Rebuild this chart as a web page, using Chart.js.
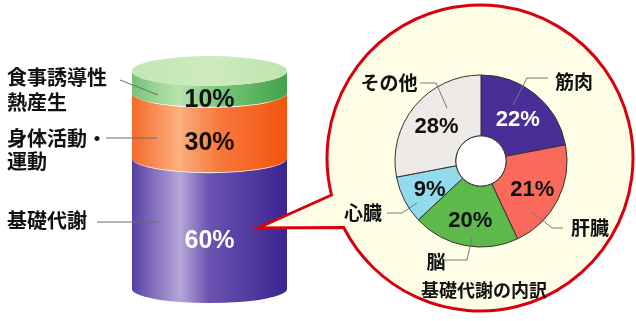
<!DOCTYPE html>
<html>
<head>
<meta charset="utf-8">
<script src="https://cdn.jsdelivr.net/npm/chart.js@4.4.1/dist/chart.umd.min.js"></script>
<style>
body{margin:0;background:#fff}
#wrap{position:relative;width:636px;height:321px}
#wrap canvas{position:absolute;left:0;top:0}
</style>
</head>
<body>
<div id="wrap">
<canvas id="enchu" width="636" height="321"></canvas>
<canvas id="uchiwake" width="636" height="321"></canvas>
</div>
<script>
// 1日のエネルギー消費量の内訳 (下から順)
const bunrui = ['基礎代謝', '身体活動・\n運動', '食事誘導性\n熱産生'];
const wariai = [60, 30, 10];

// 基礎代謝の内訳 (上から時計回り)
const soshiki = ['筋肉', '肝臓', '脳', '心臓', 'その他'];
const soshikiWariai = [22, 21, 20, 9, 28];
const uchiwakeTitle = '基礎代謝の内訳';

const JP = '"Noto Sans CJK JP", sans-serif';
const NUM = '"Liberation Sans", "Noto Sans CJK JP", sans-serif';

const enchuIro = [
  [[0,'#5840a4'],[0.31,'#b6a6d8'],[0.5,'#6a52b0'],[1,'#3a2590']],
  [[0,'#f4692a'],[0.3,'#fcb080'],[0.55,'#f77a3e'],[1,'#f4540c']],
  [[0,'#76c378'],[0.3,'#b9e3ad'],[0.55,'#7ac77c'],[1,'#44a24b']]
];
const enchuMoji = ['#fff', '#111', '#111'];

const enchuPlugin = {
  id: 'enchu',
  afterDatasetsDraw(chart){
    const ctx = chart.ctx;
    const ry = 15;
    let topEl;
    chart.data.datasets.forEach((ds, i) => {
      const el = chart.getDatasetMeta(i).data[0];
      const rx = el.width / 2, l = el.x - rx, r = el.x + rx;
      const g = ctx.createLinearGradient(l, 0, r, 0);
      enchuIro[i].forEach(s => g.addColorStop(s[0], s[1]));
      ctx.save();
      ctx.fillStyle = g;
      ctx.beginPath();
      ctx.moveTo(l, el.y);
      ctx.ellipse(el.x, el.y, rx, ry, 0, Math.PI, 0, true);
      ctx.lineTo(r, el.base);
      ctx.ellipse(el.x, el.base, rx, ry - 1, 0, 0, Math.PI, false);
      ctx.closePath();
      ctx.fill();
      ctx.restore();
      topEl = el;
    });
    // 上面
    const rx = topEl.width / 2;
    const tg = ctx.createLinearGradient(topEl.x - rx, 0, topEl.x + rx, 0);
    tg.addColorStop(0, '#c2e6b2'); tg.addColorStop(0.5, '#cdebbf'); tg.addColorStop(1, '#bfe4ae');
    ctx.fillStyle = tg;
    ctx.beginPath();
    ctx.ellipse(topEl.x, topEl.y, rx, ry, 0, 0, Math.PI * 2);
    ctx.fill();

    // 割合の文字
    chart.data.datasets.forEach((ds, i) => {
      const el = chart.getDatasetMeta(i).data[0];
      ctx.fillStyle = enchuMoji[i];
      ctx.font = 'bold 25px ' + NUM;
      ctx.textAlign = 'center';
      ctx.textBaseline = 'middle';
      ctx.fillText(ds.data[0] + '%', el.x, (el.y + el.base) / 2 + 18);
    });

    // 左の項目名と引き出し線
    const pos = [
      {ys:[220], line:[[97,222],[157,222]]},
      {ys:[138,161], line:[[106,138],[157,138]]},
      {ys:[77,102], line:[[120,80],[158,95]]}
    ];
    ctx.fillStyle = '#111';
    ctx.font = 'bold 20px ' + JP;
    ctx.textAlign = 'left';
    ctx.textBaseline = 'middle';
    bunrui.forEach((name, i) => {
      name.split('\n').forEach((t, k) => ctx.fillText(t, 7, pos[i].ys[k]));
      ctx.strokeStyle = '#6a6a6a';
      ctx.lineWidth = 1;
      ctx.beginPath();
      ctx.moveTo(pos[i].line[0][0], pos[i].line[0][1]);
      ctx.lineTo(pos[i].line[1][0], pos[i].line[1][1]);
      ctx.stroke();
    });
  }
};

new Chart(document.getElementById('enchu'), {
  type: 'bar',
  data: {
    labels: [''],
    datasets: bunrui.map((b, i) => ({
      label: b,
      data: [wariai[i]],
      backgroundColor: 'rgba(0,0,0,0)',
      borderWidth: 0,
      barPercentage: 1,
      categoryPercentage: 1
    }))
  },
  options: {
    responsive: false,
    animation: false,
    layout: {padding: {left: 132, right: 349, top: 71, bottom: 32}},
    scales: {
      x: {stacked: true, display: false},
      y: {stacked: true, display: false, min: 0, max: 100}
    },
    plugins: {legend: {display: false}, tooltip: {enabled: false}}
  },
  plugins: [enchuPlugin]
});

const soshikiIro = ['#4a2e98', '#f96a5c', '#5cb94a', '#93dbec', '#eeeae7'];

const fukidashiPlugin = {
  id: 'fukidashi',
  beforeDraw(chart){
    const ctx = chart.ctx;
    const cx = 480, cy = 158, r = 153;
    const a1 = 166 * Math.PI / 180, a2 = 153 * Math.PI / 180;
    ctx.save();
    ctx.beginPath();
    ctx.moveTo(258, 228);
    ctx.lineTo(cx + r * Math.cos(a1), cy + r * Math.sin(a1));
    ctx.arc(cx, cy, r, a1, a2, false);
    ctx.closePath();
    ctx.fillStyle = '#fefee6';
    ctx.fill();
    ctx.strokeStyle = '#d8000c';
    ctx.lineWidth = 3;
    ctx.lineJoin = 'miter';
    ctx.stroke();
    ctx.restore();
  },
  afterDatasetsDraw(chart){
    const ctx = chart.ctx;
    const meta = chart.getDatasetMeta(0);
    const a0 = meta.data[0];
    // 中央の穴
    ctx.save();
    ctx.beginPath();
    ctx.arc(a0.x, a0.y, a0.innerRadius, 0, Math.PI * 2);
    ctx.fillStyle = '#fff';
    ctx.fill();
    ctx.strokeStyle = '#333';
    ctx.lineWidth = 1;
    ctx.stroke();
    // 割合
    ctx.font = 'bold 22px ' + NUM;
    ctx.textAlign = 'center';
    ctx.textBaseline = 'middle';
    meta.data.forEach((arc, i) => {
      const m = (arc.startAngle + arc.endAngle) / 2;
      const rr = (arc.innerRadius + arc.outerRadius) / 2 + 2;
      ctx.fillStyle = i === 0 ? '#fff' : '#111';
      ctx.fillText(soshikiWariai[i] + '%', arc.x + rr * Math.cos(m), arc.y + rr * Math.sin(m) + 3);
    });
    // 項目名と引き出し線 (中心からの相対位置)
    const dx = a0.x, dy = a0.y;
    const hikidashi = [
      {t:[93,-79], l:[[32,-56],[46,-83],[67,-83]]},
      {t:[109,67], l:[[51,51],[71,67],[82,67]]},
      {t:[-45,101], l:[[-9,77],[-14,99],[-36,99]]},
      {t:[-118,52], l:[[-64,42],[-79,52],[-94,52]]},
      {t:[-92,-78], l:[[-34,-53],[-45,-78],[-61,-78]]}
    ];
    ctx.font = 'bold 19px ' + JP;
    ctx.fillStyle = '#111';
    ctx.strokeStyle = '#777';
    ctx.lineWidth = 1;
    soshiki.forEach((s, i) => {
      const h = hikidashi[i];
      ctx.beginPath();
      h.l.forEach((p, k) => k ? ctx.lineTo(dx + p[0], dy + p[1]) : ctx.moveTo(dx + p[0], dy + p[1]));
      ctx.stroke();
      ctx.fillText(s, dx + h.t[0], dy + h.t[1]);
    });
    ctx.font = 'bold 18px ' + JP;
    ctx.fillText(uchiwakeTitle, dx + 3, dy + 129);
    ctx.restore();
  }
};

new Chart(document.getElementById('uchiwake'), {
  type: 'doughnut',
  data: {
    labels: soshiki,
    datasets: [{
      data: soshikiWariai,
      backgroundColor: soshikiIro,
      borderColor: '#333',
      borderWidth: 1,
      hoverOffset: 0
    }]
  },
  options: {
    responsive: false,
    animation: false,
    radius: 86,
    cutout: 25,
    layout: {padding: {left: 395, right: 69, top: 75, bottom: 74}},
    plugins: {legend: {display: false}, tooltip: {enabled: false}}
  },
  plugins: [fukidashiPlugin]
});
</script>
</body>
</html>
